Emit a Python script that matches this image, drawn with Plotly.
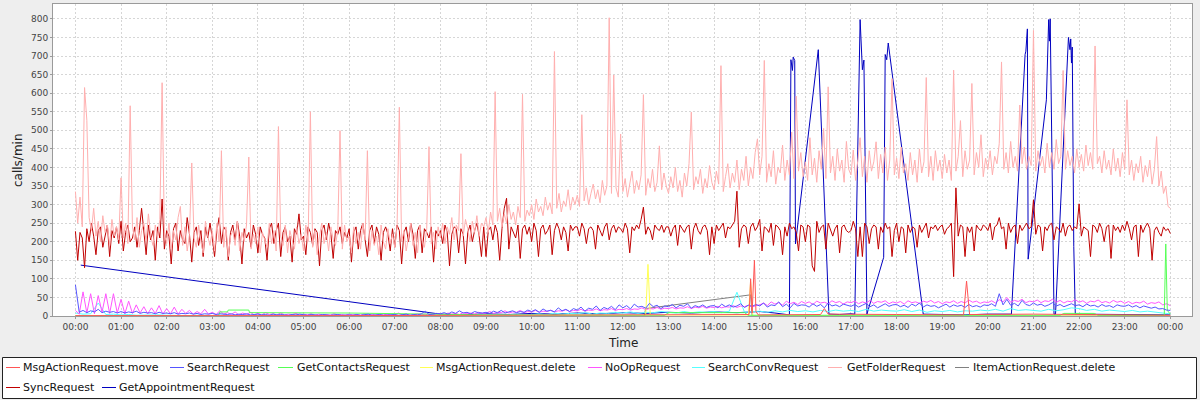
import plotly.graph_objects as go
from datetime import datetime, timedelta

BASE = datetime(2000, 1, 1)


def t(hhmm):
    h, m = hhmm.split(":")
    return BASE + timedelta(hours=int(h), minutes=int(m))


# ---------------- categories (time grids) ----------------
GRID3 = [f"{(i * 3) // 60:02d}:{(i * 3) % 60:02d}" for i in range(481)]
GRID5 = [f"{(i * 5) // 60:02d}:{(i * 5) % 60:02d}" for i in range(289)]
GRID10 = [f"{(i * 10) // 60:02d}:{(i * 10) % 60:02d}" for i in range(145)]

# ---------------- series values ----------------
# GetFolderRequest, every 3 minutes (20 values per hour)
GET_FOLDER = [
    335, 250, 320, 240, 615, 527, 265, 230, 290, 215, 255, 200, 270, 225, 245, 190, 260, 215, 240, 205,
    372, 210, 250, 195, 566, 240, 205, 265, 185, 230, 250, 200, 275, 215, 190, 245, 210, 260, 628, 220,
    195, 250, 180, 230, 205, 265, 295, 190, 240, 175, 220, 412, 210, 185, 245, 200, 170, 255, 215, 190,
    230, 175, 250, 200, 445, 185, 240, 160, 215, 230, 190, 255, 175, 225, 200, 245, 428, 180, 220, 195,
    240, 170, 225, 205, 185, 250, 195, 230, 175, 510, 215, 190, 245, 170, 230, 205, 180, 240, 195, 220,
    175, 245, 200, 550, 185, 230, 165, 215, 250, 195, 225, 175, 240, 205, 190, 230, 499, 180, 245, 200,
    215, 170, 240, 195, 225, 180, 250, 205, 445, 175, 230, 190, 215, 165, 245, 200, 180, 235, 195, 220,
    185, 240, 562, 200, 230, 175, 215, 250, 190, 225, 170, 245, 205, 185, 235, 456, 195, 225, 180, 240,
    210, 250, 195, 240, 220, 265, 205, 245, 230, 437, 215, 260, 235, 200, 255, 225, 270, 215, 250, 240,
    265, 225, 280, 245, 604, 255, 290, 240, 275, 250, 300, 260, 280, 245, 295, 265, 597, 255, 285, 270,
    300, 260, 315, 280, 295, 270, 320, 285, 305, 275, 712, 290, 330, 280, 310, 295, 340, 285, 320, 300,
    325, 295, 542, 310, 345, 300, 330, 355, 315, 340, 305, 365, 325, 350, 803, 330, 649, 345, 320, 490,
    335, 370, 320, 355, 390, 330, 365, 340, 380, 596, 325, 370, 345, 395, 335, 360, 458, 340, 385, 350,
    330, 375, 345, 400, 335, 365, 320, 385, 350, 410, 549, 340, 375, 355, 395, 330, 370, 345, 405, 360,
    340, 390, 355, 674, 335, 375, 410, 345, 385, 360, 420, 340, 395, 365, 430, 350, 400, 370, 440, 477,
    380, 430, 688, 360, 410, 375, 445, 355, 400, 385, 460, 365, 420, 380, 495, 370, 592, 390, 440, 375,
    415, 365, 480, 380, 425, 360, 445, 395, 505, 370, 617, 385, 430, 365, 450, 390, 420, 360, 470, 395,
    380, 447, 365, 420, 480, 375, 430, 360, 445, 390, 415, 469, 370, 435, 385, 455, 365, 420, 639, 380,
    425, 370, 455, 385, 410, 365, 440, 380, 420, 360, 450, 385, 415, 642, 375, 430, 365, 445, 390, 420,
    370, 435, 385, 420, 365, 662, 390, 430, 526, 375, 445, 395, 420, 626, 380, 440, 400, 488, 375, 425,
    395, 445, 380, 430, 410, 465, 684, 395, 440, 385, 470, 400, 430, 390, 568, 410, 455, 395, 430, 405,
    769, 390, 445, 405, 430, 385, 465, 400, 440, 395, 475, 410, 430, 661, 395, 445, 405, 430, 385, 450,
    400, 435, 390, 460, 405, 440, 395, 727, 410, 430, 385, 445, 395, 420, 380, 450, 390, 425, 375, 440,
    395, 582, 380, 420, 365, 410, 385, 430, 360, 405, 375, 420, 355, 395, 483, 350, 390, 330, 350, 295,
    290,
]

# SyncRequest, every 3 minutes (20 values per hour)
SYNC = [
    228, 150, 225, 210, 130, 235, 200, 250, 215, 165, 230, 240, 185, 220, 245, 160, 230, 210, 240, 195,
    255, 175, 225, 245, 200, 210, 240, 185, 230, 290, 220, 165, 245, 205, 230, 150, 240, 210, 315, 180,
    230, 215, 140, 235, 250, 175, 230, 205, 195, 265, 220, 145, 225, 240, 190, 230, 160, 240, 210, 250,
    210, 160, 230, 265, 195, 240, 230, 150, 225, 245, 205, 255, 215, 140, 235, 210, 225, 185, 245, 220,
    170, 240, 220, 210, 150, 235, 250, 195, 230, 250, 160, 225, 240, 200, 215, 145, 235, 220, 275, 205,
    215, 165, 240, 225, 190, 235, 225, 135, 230, 245, 205, 250, 220, 155, 230, 220, 240, 195, 225, 210,
    235, 145, 225, 240, 180, 230, 250, 205, 160, 230, 245, 195, 240, 220, 150, 225, 240, 220, 175, 235,
    185, 245, 230, 140, 225, 240, 200, 250, 220, 155, 230, 245, 170, 235, 225, 210, 240, 145, 230, 215,
    230, 195, 245, 225, 135, 220, 240, 235, 170, 235, 220, 140, 225, 245, 200, 230, 250, 215, 160, 240,
    160, 230, 240, 205, 245, 225, 150, 235, 290, 317, 180, 240, 225, 210, 245, 155, 235, 245, 220, 240,
    200, 250, 230, 160, 235, 245, 220, 230, 245, 165, 230, 250, 235, 205, 240, 225, 175, 245, 230, 240,
    240, 215, 250, 235, 195, 235, 240, 230, 180, 245, 230, 215, 240, 250, 205, 235, 245, 225, 240, 235,
    225, 250, 235, 170, 240, 230, 245, 235, 260, 293, 220, 240, 230, 205, 245, 235, 230, 245, 225, 240,
    240, 215, 235, 245, 190, 245, 235, 225, 240, 245, 180, 235, 250, 230, 220, 240, 245, 230, 165, 240,
    195, 245, 230, 240, 250, 210, 240, 235, 245, 255, 336, 185, 235, 245, 240, 195, 240, 250, 230, 240,
    260, 175, 240, 235, 225, 250, 190, 245, 240, 230, 165, 240, 215, 250, 235, 240, 225, 175, 245, 240,
    200, 245, 240, 135, 120, 255, 225, 240, 245, 180, 250, 230, 215, 235, 245, 170, 240, 245, 230, 225,
    230, 255, 235, 160, 240, 160, 250, 240, 195, 235, 245, 240, 180, 240, 225, 250, 235, 240, 160, 230,
    250, 200, 240, 235, 170, 245, 225, 240, 235, 185, 245, 225, 240, 250, 210, 240, 235, 245, 230, 240,
    245, 220, 235, 240, 250, 106, 345, 215, 245, 240, 160, 240, 225, 240, 175, 245, 235, 230, 245, 240,
    230, 250, 205, 240, 245, 265, 235, 240, 180, 250, 225, 240, 245, 195, 245, 230, 240, 250, 235, 240,
    313, 220, 245, 240, 175, 240, 230, 245, 250, 205, 240, 235, 225, 250, 215, 240, 245, 230, 240, 235,
    302, 215, 240, 235, 230, 160, 245, 240, 225, 250, 235, 200, 240, 245, 155, 245, 230, 240, 225, 245,
    230, 255, 235, 205, 240, 245, 160, 245, 225, 240, 250, 235, 150, 230, 240, 225, 215, 240, 230, 235,
    222,
]

# NoOpRequest, every 5 minutes
NOOP = [
    15, 5, 65, 8, 60, 6, 55, 10, 60, 7, 60, 8,
    45, 6, 40, 7, 30, 8, 25, 6, 22, 7, 28, 5,
    20, 6, 24, 5, 18, 7, 15, 5, 12, 6, 18, 5,
    10, 4, 14, 5, 9, 4, 11, 3, 8, 4, 10, 3,
    7, 3, 9, 4, 6, 3, 8, 3, 5, 4, 7, 3,
    5, 3, 6, 2, 5, 3, 4, 2, 6, 3, 4, 2,
    5, 3, 4, 2, 6, 3, 5, 2, 4, 3, 5, 2,
    4, 8, 3, 5, 2, 4, 6, 3, 5, 2, 4, 3,
    6, 4, 8, 5, 7, 4, 9, 6, 8, 5, 10, 7,
    8, 12, 7, 10, 9, 14, 8, 11, 10, 15, 9, 12,
    11, 15, 10, 13, 12, 16, 11, 14, 13, 17, 12, 15,
    14, 18, 13, 16, 15, 19, 14, 17, 16, 20, 15, 18,
    17, 20, 16, 19, 18, 22, 17, 20, 19, 23, 18, 21,
    20, 23, 19, 22, 21, 25, 20, 24, 22, 26, 21, 24,
    23, 26, 22, 25, 24, 28, 23, 27, 25, 29, 24, 28,
    30, 35, 28, 38, 32, 36, 29, 40, 33, 37, 31, 39,
    34, 38, 31, 40, 35, 37, 33, 41, 36, 39, 32, 38,
    36, 40, 33, 38, 35, 42, 34, 39, 37, 41, 33, 38,
    35, 39, 32, 41, 36, 38, 34, 40, 37, 42, 35, 39,
    33, 38, 36, 41, 34, 39, 35, 43, 37, 40, 34, 38,
    36, 41, 35, 44, 38, 50, 37, 42, 39, 45, 36, 40,
    38, 43, 36, 41, 39, 45, 37, 42, 35, 40, 38, 44,
    37, 41, 34, 40, 38, 43, 36, 39, 35, 42, 37, 40,
    34, 39, 33, 37, 35, 40, 32, 36, 34, 38, 30, 33,
    28,
]

# SearchRequest, every 5 minutes
SEARCH = [
    84, 10, 15, 9, 14, 11, 18, 9, 13, 10, 12, 8,
    12, 8, 11, 9, 13, 7, 10, 8, 9, 6, 10, 7,
    8, 6, 9, 5, 7, 6, 8, 5, 7, 4, 6, 5,
    7, 4, 6, 5, 4, 6, 3, 5, 4, 6, 3, 4,
    5, 3, 4, 2, 5, 3, 4, 3, 2, 4, 3, 5,
    3, 2, 4, 3, 2, 4, 3, 2, 3, 4, 2, 3,
    3, 2, 4, 2, 3, 5, 2, 3, 4, 2, 3, 2,
    4, 2, 3, 5, 2, 4, 3, 6, 13, 4, 5, 7,
    6, 9, 5, 11, 7, 14, 8, 10, 6, 12, 9, 8,
    10, 7, 13, 9, 15, 8, 11, 14, 9, 12, 10, 16,
    12, 17, 10, 19, 13, 15, 11, 22, 14, 18, 12, 20,
    16, 24, 13, 21, 18, 27, 15, 23, 19, 26, 17, 30,
    22, 28, 19, 32, 24, 26, 21, 34, 25, 29, 20, 27,
    25, 31, 22, 29, 26, 33, 21, 28, 24, 30, 23, 27,
    28, 22, 32, 25, 30, 24, 27, 33, 23, 29, 26, 31,
    27, 35, 24, 30, 28, 38, 25, 32, 22, 34, 27, 30,
    29, 24, 33, 26, 31, 22, 35, 27, 30, 25, 32, 28,
    26, 31, 24, 29, 34, 25, 30, 22, 28, 33, 26, 30,
    31, 25, 29, 23, 32, 27, 35, 24, 30, 26, 28, 22,
    27, 32, 24, 30, 26, 29, 23, 31, 25, 28, 24, 30,
    28, 33, 26, 60, 30, 45, 29, 34, 27, 42, 31, 28,
    35, 29, 32, 26, 30, 36, 27, 31, 25, 29, 33, 28,
    30, 25, 32, 27, 29, 24, 31, 26, 28, 23, 30, 27,
    26, 30, 24, 28, 22, 27, 25, 21, 24, 19, 20, 16,
    15,
]

# SearchConvRequest, every 10 minutes
SEARCH_CONV = [
    8, 5, 6, 35, 4, 5,
    3, 4, 2, 3, 2, 3,
    2, 1, 2, 1, 2, 1,
    1, 2, 1, 1, 2, 1,
    1, 1, 0, 1, 1, 0,
    1, 0, 1, 0, 1, 0,
    0, 1, 0, 1, 0, 1,
    1, 0, 2, 1, 0, 1,
    2, 1, 3, 2, 1, 3,
    3, 2, 4, 3, 5, 3,
    4, 6, 3, 8, 5, 7,
    6, 9, 5, 8, 7, 10,
    8, 11, 7, 10, 9, 12,
    10, 8, 12, 9, 11, 10,
    12, 9, 13, 64, 10, 11,
    13, 10, 14, 11, 15, 12,
    14, 11, 15, 12, 16, 13,
    15, 12, 18, 13, 16, 14,
    13, 17, 12, 16, 10, 14,
    12, 15, 11, 14, 13, 16,
    14, 18, 13, 20, 15, 17,
    16, 13, 18, 14, 17, 22,
    20, 15, 18, 13, 16, 14,
    12, 15, 11, 13, 10, 8,
    6,
]

MOVE_T = ["00:00", "02:00", "04:00", "06:00", "08:00", "10:00", "12:00", "13:00",
          "14:00", "14:46", "14:48", "14:50", "14:53", "14:55", "14:58", "16:00",
          "16:20", "16:25", "16:30", "18:00", "19:28", "19:32", "19:36", "21:00",
          "22:00", "23:00", "24:00"]
MOVE_V = [1, 2, 1, 1, 2, 3, 4, 3, 5, 4, 100, 8, 150, 12, 3, 5, 4, 20, 5, 4, 3, 94,
          4, 5, 4, 3, 2]

CONTACTS_T = ["00:00", "03:08", "03:10", "03:20", "03:21", "03:48", "03:49", "06:00",
              "09:00", "12:55", "13:00", "14:40", "14:45", "21:35", "21:40", "22:20",
              "22:25", "23:52", "23:54", "23:56", "24:00"]
CONTACTS_V = [0, 0, 11, 11, 16, 16, 9, 8, 3, 2, 9, 9, 2, 2, 7, 7, 2, 2, 194, 15, 5]

DELETE_T = ["00:00", "12:30", "12:33", "12:36", "14:45", "14:48", "14:51", "24:00"]
DELETE_V = [0, 0, 139, 0, 0, 93, 0, 0]

ITEM_DEL_T = ["00:00", "12:28", "12:30", "14:48", "14:50", "24:00"]
ITEM_DEL_V = [0, 0, 20, 57, 0, 0]

APPT_T = ["00:07", "08:00", "08:30", "09:00", "09:30", "10:00", "10:30", "11:00",
          "11:30", "12:00", "12:30", "13:00", "13:30", "14:00", "14:30", "15:00",
          "15:20", "15:39", "15:41", "15:43", "15:44", "15:46", "15:47", "16:17",
          "16:31", "16:45", "17:00", "17:05", "17:12", "17:15", "17:17", "17:21",
          "17:43", "17:45", "17:47", "17:49", "18:35", "19:00", "19:30", "20:00",
          "20:31", "20:49", "20:50", "20:52", "20:53", "21:17", "21:20", "21:21",
          "21:22", "21:27", "21:29", "21:46", "21:48", "21:49", "21:50", "21:51",
          "21:53", "21:55", "22:30", "23:00", "23:30", "24:00"]
APPT_V = [137, 5, 3, 6, 4, 7, 5, 8,
          6, 9, 7, 10, 8, 11, 9, 12,
          8, 3, 690, 661, 697, 688, 194, 717,
          5, 4, 6, 5, 798, 663, 689, 5,
          158, 704, 690, 735, 5, 4, 3, 5,
          5, 704, 713, 773, 153, 582, 798, 740,
          800, 5, 5, 750, 717, 746, 681, 724,
          187, 5, 4, 3, 4, 3]

assert len(GET_FOLDER) == 481 and len(SYNC) == 481
assert len(NOOP) == 289 and len(SEARCH) == 289
assert len(SEARCH_CONV) == 145
assert len(MOVE_T) == len(MOVE_V)
assert len(CONTACTS_T) == len(CONTACTS_V)
assert len(DELETE_T) == len(DELETE_V)
assert len(ITEM_DEL_T) == len(ITEM_DEL_V)
assert len(APPT_T) == len(APPT_V), (len(APPT_T), len(APPT_V))

# legend order: (name, times, values, colour)
SERIES = [
    ("MsgActionRequest.move", MOVE_T, MOVE_V, "#FF5555"),
    ("SearchRequest", GRID5, SEARCH, "#5555FF"),
    ("GetContactsRequest", CONTACTS_T, CONTACTS_V, "#55FF55"),
    ("MsgActionRequest.delete", DELETE_T, DELETE_V, "#FFFF55"),
    ("NoOpRequest", GRID5, NOOP, "#FF55FF"),
    ("SearchConvRequest", GRID10, SEARCH_CONV, "#55FFFF"),
    ("GetFolderRequest", GRID3, GET_FOLDER, "#FFAFAF"),
    ("ItemActionRequest.delete", ITEM_DEL_T, ITEM_DEL_V, "#808080"),
    ("SyncRequest", GRID3, SYNC, "#C00000"),
    ("GetAppointmentRequest", APPT_T, APPT_V, "#0000C0"),
]

fig = go.Figure()
# first series drawn last (on top), like the original renderer
for name, times, vals, col in reversed(SERIES):
    fig.add_trace(go.Scatter(
        x=[t(s) for s in times], y=vals, mode="lines", name=name,
        line=dict(color=col, width=1), showlegend=False, hoverinfo="skip",
    ))

# ---------------- layout ----------------
W, H = 1200, 400
L, R, T, B = 53, 1192, 4, 316
FONT = "DejaVu Sans"
BG = "#EEEEEE"


def px_x(p):
    return (p - L) / (R - L)


def px_y(p):
    return (B - p) / (B - T)


axis_common = dict(
    showgrid=True, gridcolor="#d6d6d6", griddash="2px,2px", gridwidth=1,
    showline=True, linecolor="#9a9a9a", linewidth=1, mirror=True,
    ticks="outside", ticklen=2, tickcolor="#9a9a9a", automargin=False,
    tickfont=dict(family=FONT, size=9, color="#444444"), zeroline=False,
)

fig.update_layout(
    width=W, height=H,
    margin=dict(l=L, r=W - R, t=T, b=H - B, pad=0, autoexpand=False),
    paper_bgcolor=BG, plot_bgcolor="white",
    showlegend=False,
    xaxis=dict(
        type="date",
        range=[BASE - timedelta(minutes=29.5), BASE + timedelta(hours=24, minutes=28.5)],
        tick0=BASE, dtick=3600000, tickformat="%H:%M", **axis_common,
    ),
    yaxis=dict(range=[0, 840], tick0=0, dtick=50, **axis_common),
)

annotations = [
    dict(text="Time", x=0.5, y=px_y(343), xref="paper", yref="paper",
         showarrow=False, xanchor="center", yanchor="middle",
         font=dict(family=FONT, size=12, color="#222222")),
    dict(text="calls/min", x=px_x(18), y=0.5, xref="paper", yref="paper",
         showarrow=False, textangle=-90, xanchor="center", yanchor="middle",
         font=dict(family=FONT, size=12, color="#222222")),
]

shapes = [
    dict(type="rect", xref="paper", yref="paper",
         x0=px_x(2.5), x1=px_x(1196.5), y0=px_y(398.5), y1=px_y(357.5),
         fillcolor="white", line=dict(color="#222222", width=1), layer="below"),
]

# legend item placement (pixel columns of the legend rows)
LEG_ROW_Y = [367.5, 387.5]
LEG_ITEMS = [  # (row, line start, line end, text start)
    (0, 6, 20, 22.7), (0, 170, 184, 186.7), (0, 278, 293, 296.7), (0, 420, 433, 436),
    (0, 588, 602, 605), (0, 692, 705, 708.3), (0, 828, 842, 846.7), (0, 955, 969, 972.7),
    (1, 6, 20, 22.7), (1, 102, 116, 119),
]
for (name, _, _, col), (row, x0, x1, xt) in zip(SERIES, LEG_ITEMS):
    yy = px_y(LEG_ROW_Y[row])
    shapes.append(dict(type="line", xref="paper", yref="paper", layer="above",
                       x0=px_x(x0), x1=px_x(x1), y0=yy, y1=yy,
                       line=dict(color=col, width=1)))
    annotations.append(dict(text=name, x=px_x(xt - 2), y=yy, xref="paper", yref="paper",
                            showarrow=False, xanchor="left", yanchor="middle",
                            font=dict(family=FONT, size=11, color="#111111")))

fig.update_layout(shapes=shapes, annotations=annotations)

# remove the browser's default page margin so the figure sits at the window origin
PAGE_CSS = ("document.body.style.margin='0';"
            "document.body.style.backgroundColor='" + BG + "';"
            "document.documentElement.style.overflow='hidden';")

fig.write_html("out.html", post_script=PAGE_CSS,
               config={"displayModeBar": False, "staticPlot": True})
